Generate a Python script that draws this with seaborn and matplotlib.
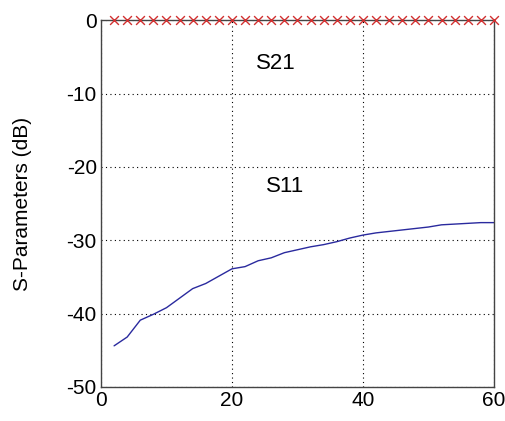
import matplotlib
matplotlib.use("Agg")
import matplotlib.pyplot as plt
import seaborn as sns
import pandas as pd

freq = [2, 4, 6, 8, 10, 12, 14, 16, 18, 20, 22, 24, 26, 28, 30,
        32, 34, 36, 38, 40, 42, 44, 46, 48, 50, 52, 54, 56, 58, 60]
s11 = [-44.4, -43.2, -40.9, -40.1, -39.2, -37.9, -36.6, -35.9, -34.9, -33.9,
       -33.6, -32.8, -32.4, -31.7, -31.3, -30.9, -30.6, -30.2, -29.7, -29.3,
       -29.0, -28.8, -28.6, -28.4, -28.2, -27.9, -27.8, -27.7, -27.6, -27.6]
s21 = [0.0] * len(freq)

x_ticks = [0, 20, 40, 60]
y_ticks = [0, -10, -20, -30, -40, -50]

sns.set_theme(style="white")
plt.rcParams['font.family'] = ['Liberation Sans', 'DejaVu Sans']
plt.rcParams['axes.unicode_minus'] = False
plt.rcParams['text.color'] = 'black'
plt.rcParams['axes.labelcolor'] = 'black'

df = pd.DataFrame({"freq": freq, "s11": s11, "s21": s21})

fig = plt.figure(figsize=(5.05, 4.21), dpi=100)
ax = fig.add_axes([0.2, 0.081, 0.778, 0.871])

sns.lineplot(data=df, x="freq", y="s11", ax=ax, color="#2a2a9e", linewidth=1.0)
sns.scatterplot(data=df, x="freq", y="s21", ax=ax, marker="x", color="#d03030",
                s=40, linewidth=1.0, clip_on=False, zorder=5)

ax.set_xlim(0, 60)
ax.set_ylim(-50, 0)
ax.set_xticks(x_ticks)
ax.set_yticks(y_ticks)
ax.tick_params(direction="in", length=4, labelsize=15, colors="black", pad=3)
ax.grid(True, linestyle=(0, (1, 3)), color="black", linewidth=0.8)
for sp in ax.spines.values():
    sp.set_color("#444444")
    sp.set_linewidth(1.0)
ax.set_xlabel("")
ax.set_ylabel("S-Parameters (dB)", fontsize=15)
ax.yaxis.set_label_coords(-0.175, 0.5)

ax.text(26.7, -5.9, "S21", fontsize=16, ha="center", va="center")
ax.text(28.1, -22.7, "S11", fontsize=16, ha="center", va="center")

fig.savefig("out.png", dpi=100, facecolor="white")
